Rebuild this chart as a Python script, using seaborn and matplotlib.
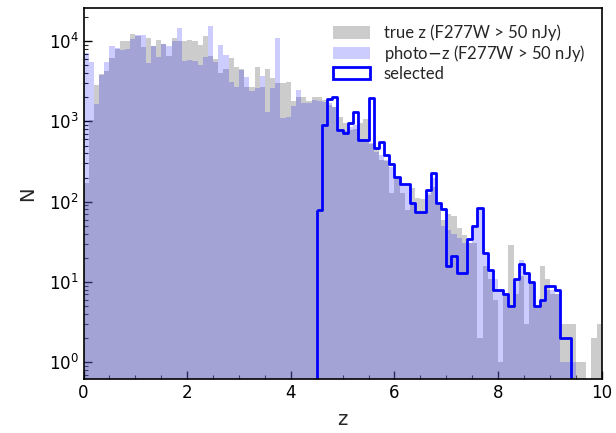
import numpy as np
import pandas as pd
import matplotlib
matplotlib.use("Agg")
import matplotlib.pyplot as plt
import seaborn as sns

# Redshift bins: 0 < z < 10 in steps of 0.1
bin_edges = [round(0.1 * i, 1) for i in range(101)]

# Counts per bin, true redshift (F277W > 50 nJy)
true_z_counts = [
    170, 1050, 2850, 3900, 4250, 6230, 8000, 9900, 9900, 12200,
    11400, 8500, 10870, 8700, 10350, 9100, 6600, 10870, 10000, 10000,
    10350, 10000, 8980, 11700, 6550, 6000, 4050, 4470, 6120, 4810,
    4470, 2710, 2700, 4810, 2700, 4470, 3450, 2990, 2980, 3130,
    1800, 2000, 2000, 1800, 2000, 2000, 1850, 1600, 1500, 1150,
    950, 784, 800, 950, 1065, 520, 464, 332, 320, 128,
    196, 128, 79, 147, 110, 107, 120, 154, 91, 60,
    70, 66, 47, 39, 31, 31, 2, 16, 11, 6,
    1, 7, 29, 7, 12, 3, 10, 5, 16, 11,
    7, 7, 3, 3, 3, 1, 1, 0, 2, 3,
]

# Counts per bin, photometric redshift (F277W > 50 nJy)
photo_z_counts = [
    7070, 5560, 1650, 3800, 5460, 8790, 8100, 7770, 7900, 10650,
    12000, 12000, 5400, 8800, 6300, 9230, 8790, 10000, 14500, 5720,
    5800, 5650, 5060, 6300, 15600, 5560, 8980, 6730, 3080, 2710,
    4400, 3610, 2420, 2640, 3690, 1325, 2640, 10900, 1100, 1130,
    1540, 2470, 1685, 1685, 1850, 1800, 1765, 1700, 1530, 784,
    750, 850, 900, 590, 588, 540, 420, 380, 330, 274,
    196, 167, 160, 100, 73, 75, 130, 200, 91, 50,
    45, 40, 35, 31, 31, 51, 80, 23, 14, 11,
    8, 7, 5, 11, 19, 13, 10, 5, 6, 8,
    8, 7, 1, 1, 1, 0, 0, 0, 0, 0,
]

# Selected sample, 4.5 < z < 9.4
selected_edges = [round(4.5 + 0.1 * i, 1) for i in range(50)]
selected_counts = [
    79, 904, 1890, 2040, 784, 726, 949, 1325, 588, 588,
    1980, 470, 560, 380, 296, 205, 167, 167, 97, 74,
    75, 140, 226, 97, 81, 16, 21, 13, 13, 34,
    50, 83, 23, 14, 8, 8, 7, 5, 11, 17,
    13, 10, 5, 6, 9, 9, 8, 2, 2,
]

labels = [
    "true z (F277W > 50 nJy)",
    "photo$-$z (F277W > 50 nJy)",
    "selected",
]


def binned_frame(edges, counts):
    e = np.asarray(edges, dtype=float)
    return pd.DataFrame({"z": 0.5 * (e[:-1] + e[1:]),
                         "n": np.asarray(counts, dtype=float)})


true_df = binned_frame(bin_edges, true_z_counts)
photo_df = binned_frame(bin_edges, photo_z_counts)
sel_df = binned_frame(selected_edges, selected_counts)

sns.set_style("ticks")
plt.rcParams["font.family"] = ["DejaVu Sans"]

fig = plt.figure(figsize=(6.16, 4.33), dpi=100)
ax = fig.add_axes([0.1356, 0.1247, 0.8412, 0.8568])

sns.histplot(data=true_df, x="z", weights="n", bins=bin_edges, element="step",
             fill=True, color="gray", alpha=0.4, linewidth=0, ax=ax,
             label=labels[0])
sns.histplot(data=photo_df, x="z", weights="n", bins=bin_edges, element="step",
             fill=True, color="blue", alpha=0.2, linewidth=0, ax=ax,
             label=labels[1])
sns.histplot(data=sel_df, x="z", weights="n", bins=selected_edges,
             element="step", fill=True, facecolor="none", color="blue",
             linewidth=2, ax=ax, label=labels[2])

ax.set_yscale("log")
ax.set_xlim(0, 10)
ax.set_ylim(0.62, 25800)
ax.set_xticks([0, 2, 4, 6, 8, 10])
ax.xaxis.set_minor_locator(matplotlib.ticker.MultipleLocator(0.5))
ax.tick_params(axis="both", which="major", direction="in", length=6,
               width=1, labelsize=12, colors="black")
ax.tick_params(axis="both", which="minor", direction="in", length=3.2,
               width=0.8)
ax.set_xlabel("z", fontsize=14, labelpad=6)
ax.set_ylabel("N", fontsize=14, labelpad=8)
for side in ["top", "right", "left", "bottom"]:
    ax.spines[side].set_visible(True)
    ax.spines[side].set_linewidth(1.2)
    ax.spines[side].set_color("black")

ax.legend(loc="upper right", frameon=False, prop={"family": "Lato", "size": 12},
          handlelength=2.2, handleheight=0.75, handletextpad=0.85,
          labelspacing=0.1, borderaxespad=0.6)

fig.savefig("out.png", dpi=100)
